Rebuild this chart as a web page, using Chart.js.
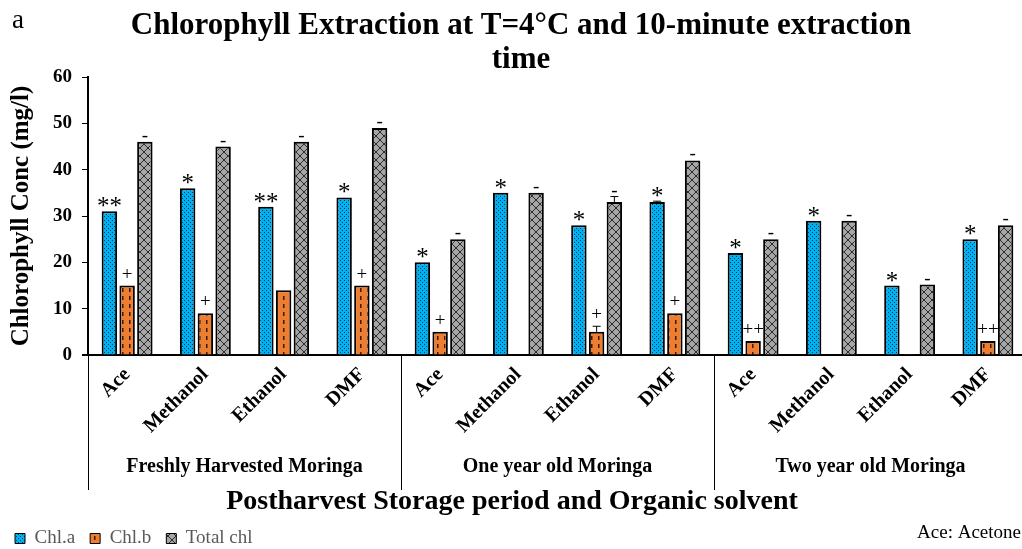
<!DOCTYPE html>
<html>
<head>
<meta charset="utf-8">
<script src="https://cdn.jsdelivr.net/npm/chart.js@4.4.1/dist/chart.umd.min.js"></script>
<style>
  html, body { margin: 0; padding: 0; background: #ffffff; overflow: hidden; }
  #wrap { width: 1054px; height: 549px; position: relative; }
</style>
</head>
<body>
<div id="wrap"><canvas id="c" width="1054" height="549"></canvas></div>
<script>
// Solvents within each storage period
const solvents = ['Ace', 'Methanol', 'Ethanol', 'DMF',
                  'Ace', 'Methanol', 'Ethanol', 'DMF',
                  'Ace', 'Methanol', 'Ethanol', 'DMF'];
const storageGroups = ['Freshly Harvested Moringa', 'One year old Moringa', 'Two year old Moringa'];

// Concentrations (mg/l)
const chlA     = [31, 36, 32, 34,   20, 35, 28, 33,   22, 29, 15, 25];
const chlB     = [15,  9, 14, 15,    5,  0,  5,  9,    3,  0, 0.2, 3];
const totalChl = [46, 45, 46, 49,   25, 35, 33, 42,   25, 29, 15.2, 28];

// Standard deviations
const chlAErr     = [0, 0, 0, 0,   0, 0, 0, 0.2,   0, 0, 0, 0];
const chlBErr     = [0, 0, 0, 0,   0, 0, 1.2, 0,   0, 0, 0, 0];
const totalChlErr = [0, 0, 0, 0,   0, 0, 1.2, 0,   0, 0, 0, 0];

// Significance marks
const chlAMarks     = ['**', '*', '**', '*',   '*', '*', '*', '*',   '*', '*', '*', '*'];
const chlBMarks     = ['+', '+', '', '+',      '+', '', '+', '+',    '++', '', '', '++'];
const totalChlMarks = ['-', '-', '-', '-',     '-', '-', '-', '-',   '-', '-', '-', '-'];

const yTicks = [0, 10, 20, 30, 40, 50, 60];

const SERIF = '"Liberation Serif", "Times New Roman", serif';
Chart.defaults.font.family = SERIF;
Chart.defaults.color = '#000';

const canvas = document.getElementById('c');
const ctx0 = canvas.getContext('2d');

function makePattern(w, h, bg, paint) {
  const c = document.createElement('canvas');
  c.width = w; c.height = h;
  const g = c.getContext('2d');
  g.fillStyle = bg; g.fillRect(0, 0, w, h);
  paint(g);
  return ctx0.createPattern(c, 'repeat');
}
const dottedBlue = makePattern(4, 4, '#00B0F0', g => {
  g.fillStyle = '#0d3850';
  g.fillRect(0, 0, 1, 1); g.fillRect(2, 2, 1, 1);
});
const dashedOrange = makePattern(7, 8, '#ED7D31', g => {
  g.fillStyle = '#3b1a06';
  g.fillRect(3, 0, 1.5, 4);
});
const hatchedGrey = makePattern(8, 8, '#A6A6A6', g => {
  g.strokeStyle = '#2b2b2b'; g.lineWidth = 1;
  g.beginPath();
  g.moveTo(0, 0); g.lineTo(8, 8);
  g.moveTo(8, 0); g.lineTo(0, 8);
  g.stroke();
});

// Error bars, significance marks and category annotations
const annotate = {
  id: 'annotate',
  afterDatasetsDraw(chart) {
    const ctx = chart.ctx;
    const ys = chart.scales.y;
    ctx.save();
    chart.data.datasets.forEach((ds, di) => {
      const meta = chart.getDatasetMeta(di);
      meta.data.forEach((bar, i) => {
        const v = ds.data[i];
        const e = ds.errors[i] || 0;
        let top = ys.getPixelForValue(v);
        if (e > 0) {
          const yt = ys.getPixelForValue(v + e);
          ctx.strokeStyle = '#000'; ctx.lineWidth = 1;
          ctx.beginPath();
          ctx.moveTo(bar.x, top); ctx.lineTo(bar.x, yt);
          ctx.moveTo(bar.x - 4, yt); ctx.lineTo(bar.x + 4, yt);
          ctx.stroke();
          top = yt;
        }
        const m = ds.marks[i];
        if (m) {
          ctx.fillStyle = '#000';
          ctx.textAlign = 'center';
          ctx.textBaseline = 'alphabetic';
          if (m[0] === '*') {
            ctx.font = '25px ' + SERIF;
            ctx.fillText(m, bar.x, top + 3);
          } else if (m[0] === '+') {
            ctx.font = '19px ' + SERIF;
            ctx.fillText(m, bar.x, top - 6);
          } else {
            ctx.font = '19px ' + SERIF;
            ctx.fillText(m, bar.x, top - 1);
          }
        }
      });
    });
    ctx.restore();
  },
  afterDraw(chart) {
    const ctx = chart.ctx;
    const xs = chart.scales.x;
    const area = chart.chartArea;
    ctx.save();
    // storage-period dividers under the axis
    ctx.strokeStyle = '#000'; ctx.lineWidth = 1;
    const bounds = [area.left];
    for (let k = 1; k <= storageGroups.length; k++) {
      const i = k * 4;
      if (i < solvents.length) {
        bounds.push((xs.getPixelForValue(i - 1) + xs.getPixelForValue(i)) / 2);
      } else {
        bounds.push(area.right);
      }
    }
    ctx.beginPath();
    bounds.forEach(b => { const x = Math.round(b) + 0.5; ctx.moveTo(x, area.bottom); ctx.lineTo(x, 490); });
    ctx.stroke();
    // short overhang of the category axis left of the value axis
    ctx.lineWidth = 2;
    ctx.beginPath(); ctx.moveTo(area.left - 6, area.bottom); ctx.lineTo(area.left, area.bottom); ctx.stroke();
    // storage-period names
    ctx.fillStyle = '#000';
    ctx.textAlign = 'center';
    ctx.textBaseline = 'middle';
    ctx.font = 'bold 20px ' + SERIF;
    storageGroups.forEach((g, k) => {
      const cx = (xs.getPixelForValue(k * 4) + xs.getPixelForValue(k * 4 + 3)) / 2;
      ctx.fillText(g, cx, 467);
    });
    // axis title
    ctx.font = 'bold 28px ' + SERIF;
    ctx.fillText('Postharvest Storage period and Organic solvent', 512, 502);
    // chart title
    ctx.font = 'bold 31px ' + SERIF;
    ctx.textBaseline = 'alphabetic';
    ctx.fillText('Chlorophyll Extraction at T=4\u00B0C and 10-minute extraction', 521, 34);
    ctx.fillText('time', 521, 68);
    // panel letter
    ctx.textAlign = 'left';
    ctx.font = '27px ' + SERIF;
    ctx.fillText('a', 12, 28);
    // abbreviation note
    ctx.textAlign = 'right';
    ctx.font = '19px ' + SERIF;
    ctx.fillText('Ace: Acetone', 1021, 538);
    ctx.restore();
  }
};

new Chart(canvas, {
  type: 'bar',
  data: {
    labels: solvents,
    datasets: [
      { label: 'Chl.a', data: chlA, errors: chlAErr, marks: chlAMarks,
        backgroundColor: dottedBlue, borderColor: '#000', borderWidth: 2 },
      { label: 'Chl.b', data: chlB, errors: chlBErr, marks: chlBMarks,
        backgroundColor: dashedOrange, borderColor: '#000', borderWidth: 2 },
      { label: 'Total chl', data: totalChl, errors: totalChlErr, marks: totalChlMarks,
        backgroundColor: hatchedGrey, borderColor: '#000', borderWidth: 2 }
    ]
  },
  options: {
    responsive: false,
    animation: false,
    devicePixelRatio: 1,
    layout: { padding: { top: 77, right: 27, left: 0, bottom: -9 } },
    datasets: { bar: { categoryPercentage: 0.68, barPercentage: 0.87 } },
    plugins: {
      title: { display: false },
      tooltip: { enabled: false },
      legend: {
        display: true,
        position: 'bottom',
        align: 'start',
        labels: {
          boxWidth: 10, boxHeight: 10, padding: 15,
          color: '#595959',
          font: { size: 19, family: SERIF },
          generateLabels: (chart) =>
            Chart.defaults.plugins.legend.labels.generateLabels(chart).map(l => ({ ...l, lineWidth: 1 }))
        }
      }
    },
    scales: {
      x: {
        grid: { display: false, drawTicks: false },
        border: { display: true, color: '#000', width: 2 },
        ticks: {
          autoSkip: false, minRotation: 45, maxRotation: 45, padding: 8,
          color: '#000', font: { size: 20, weight: 'bold', family: SERIF }
        },
        afterFit: (s) => { s.height = 159; }
      },
      y: {
        min: 0, max: 60,
        afterBuildTicks: (s) => { s.ticks = yTicks.map(v => ({ value: v })); },
        grid: { display: true, drawOnChartArea: false, drawTicks: true, tickLength: 6, color: '#000' },
        border: { display: true, color: '#000', width: 2 },
        ticks: { padding: 10, color: '#000', font: { size: 19, weight: 'bold', family: SERIF } },
        title: {
          display: true, text: 'Chlorophyll Conc (mg/l)', color: '#000',
          font: { size: 25, weight: 'bold', family: SERIF }, padding: { top: 7, bottom: 0 }
        },
        afterFit: (s) => { s.width = 88; }
      }
    }
  },
  plugins: [annotate]
});
</script>
</body>
</html>
